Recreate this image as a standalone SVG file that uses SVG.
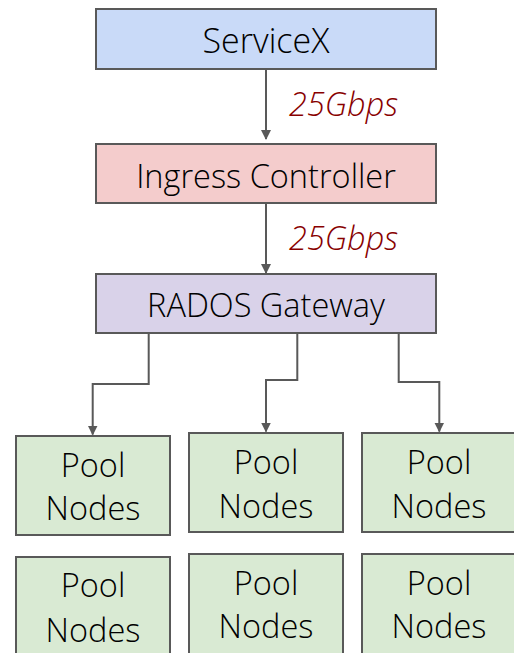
<svg xmlns="http://www.w3.org/2000/svg" width="514" height="653" viewBox="0 0 514 653">
<style>
.box{stroke:#595959;stroke-width:2}
.t{font-family:"Open Sans","Noto Sans",sans-serif;font-size:32.5px;font-weight:350;fill:#000;text-anchor:middle}
.lbl{font-family:"Open Sans","Noto Sans",sans-serif;font-size:32.5px;font-weight:350;font-style:italic;fill:#880000}
.c{fill:none;stroke:#595959;stroke-width:2}
.pool{fill:#d9ead3}
</style>
<defs>
<marker id="ah" viewBox="0 0 10 10" refX="9" refY="5" markerWidth="5" markerHeight="5" orient="auto" markerUnits="strokeWidth">
<path d="M0,0 L10,5 L0,10 z" fill="#595959"/>
</marker>
</defs>
<g id="connectors">
<path class="c" d="M266,69 V139" marker-end="url(#ah)"/>
<path class="c" d="M266,203 V273" marker-end="url(#ah)"/>
<path class="c" d="M148.7,333 V384 H92.7 V434.5" marker-end="url(#ah)"/>
<path class="c" d="M297.3,333 V380 H266 V431.5" marker-end="url(#ah)"/>
<path class="c" d="M398.7,333 V382 H439.3 V431.5" marker-end="url(#ah)"/>
<text class="lbl" x="289" y="116">25Gbps</text>
<text class="lbl" x="289" y="250">25Gbps</text>
</g>
<g id="servicex"><rect class="box" x="96" y="9" width="340" height="60" fill="#c9daf8"/><text class="t" x="266" y="53" style="font-size:34px">ServiceX</text></g>
<g id="ingress"><rect class="box" x="96" y="144" width="340" height="59" fill="#f4cccc"/><text class="t" x="266" y="188">Ingress Controller</text></g>
<g id="rados"><rect class="box" x="96" y="274" width="340" height="59" fill="#d9d2e9"/><text class="t" x="266" y="317">RADOS Gateway</text></g>
<g id="pool1"><rect class="box pool" x="16" y="436" width="154" height="99"/><text class="t" x="93" y="477">Pool</text><text class="t" x="93" y="520">Nodes</text></g>
<g id="pool2"><rect class="box pool" x="189" y="433" width="154" height="99"/><text class="t" x="266" y="474">Pool</text><text class="t" x="266" y="518">Nodes</text></g>
<g id="pool3"><rect class="box pool" x="362" y="433" width="154" height="99"/><text class="t" x="439" y="474">Pool</text><text class="t" x="439" y="518">Nodes</text></g>
<g id="pool4"><rect class="box pool" x="16" y="557" width="154" height="100"/><text class="t" x="93" y="597">Pool</text><text class="t" x="93" y="642">Nodes</text></g>
<g id="pool5"><rect class="box pool" x="189" y="554" width="154" height="103"/><text class="t" x="266" y="595">Pool</text><text class="t" x="266" y="638">Nodes</text></g>
<g id="pool6"><rect class="box pool" x="362" y="554" width="154" height="103"/><text class="t" x="439" y="595">Pool</text><text class="t" x="439" y="638">Nodes</text></g>
</svg>
